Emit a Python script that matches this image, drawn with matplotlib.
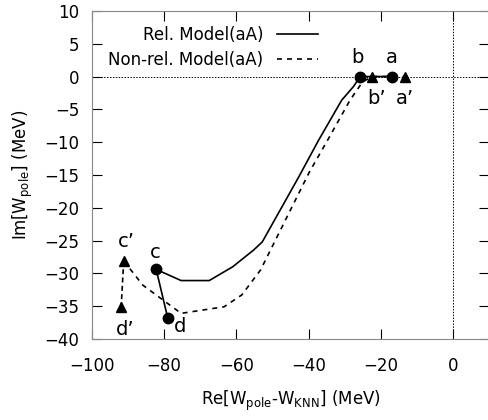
import matplotlib
matplotlib.use("Agg")
import matplotlib.pyplot as plt

# Rel. Model(aA): pole trajectory from c to b, then b -> a along the real axis
rel_x = [-82.2, -75.3, -67.5, -61.0, -55.1, -52.8, -42.7, -37.2, -30.8, -27.5, -25.7, -16.8]
rel_y = [-29.4, -31.1, -31.1, -29.0, -26.4, -25.2, -15.3, -9.7, -3.6, -1.5, 0.0, 0.0]

# Non-rel. Model(aA): pole trajectory from c' to b', then b' -> a'
nonrel_x = [-91.2, -85.9, -75.3, -63.4, -58.5, -53.3, -39.8, -34.4, -28.5, -25.0, -22.3, -13.3]
nonrel_y = [-28.1, -31.8, -36.1, -35.1, -33.3, -29.5, -14.6, -9.4, -3.6, -0.8, 0.0, 0.0]

# labelled points
rel_pts = {"a": (-16.8, 0.0), "b": (-25.7, 0.0), "c": (-82.2, -29.4), "d": (-79.0, -36.8)}
nonrel_pts = {"a\u2019": (-13.3, 0.0), "b\u2019": (-22.3, 0.0),
              "c\u2019": (-91.2, -28.1), "d\u2019": (-91.9, -35.1)}

# label offsets in points
offsets = {"a": (0, 14), "b": (-2, 14), "c": (-1, 12), "d": (9, -6),
           "a\u2019": (0, -16), "b\u2019": (3, -16), "c\u2019": (2, 14), "d\u2019": (3, -16)}

plt.rcParams["font.family"] = ["DejaVu Sans"]
plt.rcParams["mathtext.fontset"] = "dejavusans"

fig = plt.figure(figsize=(4.89, 4.2), dpi=100)
ax = fig.add_axes([0.188, 0.193, 0.812, 0.781])

ax.axhline(0, color="black", lw=0.7, ls=(0, (1.5, 1.5)), zorder=1)
ax.axvline(0, color="black", lw=0.7, ls=(0, (1.5, 1.5)), zorder=1)

ax.plot(rel_x, rel_y, color="black", lw=1.2, label="Rel. Model(aA)")
ax.plot(nonrel_x, nonrel_y, color="black", lw=1.2, ls=(0, (3, 3)),
        label="Non-rel. Model(aA)")

# c-d and c'-d' segments
ax.plot([rel_pts["c"][0], rel_pts["d"][0]], [rel_pts["c"][1], rel_pts["d"][1]],
        color="black", lw=1.2)
ax.plot([nonrel_pts["c\u2019"][0], nonrel_pts["d\u2019"][0]],
        [nonrel_pts["c\u2019"][1], nonrel_pts["d\u2019"][1]],
        color="black", lw=1.2, ls=(0, (3, 2)))

for name, (x, y) in rel_pts.items():
    ax.plot(x, y, "o", color="black", ms=7.5, zorder=5)
    ax.annotate(name, (x, y), xytext=offsets[name], textcoords="offset points",
                ha="center", va="center", fontsize=14)
for name, (x, y) in nonrel_pts.items():
    ax.plot(x, y, "^", color="black", ms=6.5, zorder=5)
    ax.annotate(name, (x, y), xytext=offsets[name], textcoords="offset points",
                ha="center", va="center", fontsize=14)

ax.set_xlim(-100, 10)
ax.set_ylim(-40, 10)
ax.set_xticks([-100, -80, -60, -40, -20, 0])
ax.set_yticks(range(-40, 11, 5))
ax.tick_params(direction="in", length=7, width=0.8, top=True, right=True,
               labelsize=12)
ax.tick_params(axis="x", pad=13)
ax.tick_params(axis="y", pad=9)
for s in ax.spines.values():
    s.set_color("#888888")
    s.set_linewidth(0.8)

ax.set_xlabel(r"Re[W$_{\rm pole}$-W$_{\rm KNN}$] (MeV)", fontsize=12, labelpad=10)
ax.set_ylabel(r"Im[W$_{\rm pole}$] (MeV)", fontsize=12, labelpad=7)

ax.legend(loc="upper left", frameon=False, markerfirst=False, fontsize=12,
          handlelength=2.5, borderaxespad=0.3, labelspacing=0.4,
          bbox_to_anchor=(0.012, 0.99))

fig.savefig("out.png", dpi=100)
